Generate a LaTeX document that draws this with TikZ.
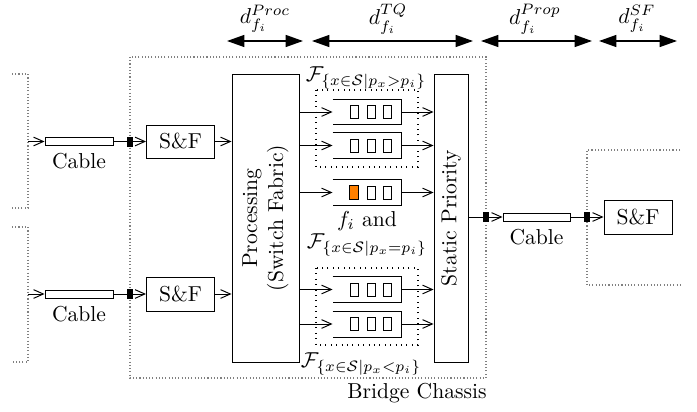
\documentclass[tikz,border=0pt]{standalone}
\usetikzlibrary{arrows.meta}
\def\u{0.463pt}
\begin{document}
\begin{tikzpicture}[x=0.463pt,y=-0.463pt,line width=0.45pt,
  box/.style={draw,rectangle,inner sep=0pt},
  sfbox/.style={box,minimum width=68*\u,minimum height=34*\u},
  cablebox/.style={box,minimum width=68*\u,minimum height=8*\u},
  plug/.style={draw,fill=black,rectangle,inner sep=0pt,minimum width=5*\u,minimum height=9*\u},
  slot/.style={draw,rectangle,inner sep=0pt,minimum width=8*\u,minimum height=13*\u,line width=0.4pt},
  qslot/.style={rectangle,inner sep=0pt,minimum width=68*\u,minimum height=25*\u},
  flow/.style={-{Straight Barb[length=4.5pt,width=4pt]}},
  span/.style={{Triangle[length=8pt,width=5.5pt]}-{Triangle[length=8pt,width=5.5pt]},line width=0.7pt},
  chassis/.style={densely dotted,gray,line width=0.5pt},
  group/.style={dotted,line width=0.5pt}]
\useasboundingbox (0,0) rectangle (697,412);

% enclosures
\draw[chassis] (130,57) rectangle (486,378);
\draw[chassis] (12,74) -- (28,74) -- (28,208) -- (12,208);
\draw[chassis] (12,227) -- (28,227) -- (28,362) -- (12,362);
\draw[chassis] (680,150) -- (587,150) -- (587,285) -- (680,285);
\node[anchor=base] (chassislbl) at (417,398) {Bridge Chassis};

% ingress ports
\coordinate (in1) at (28,141.5);
\coordinate (in2) at (28,294);
\node[cablebox] (cable1) at (79,141.5) {};
\node[cablebox] (cable2) at (79,294) {};
\node[anchor=north] (cable1lbl) at (cable1.south) {Cable};
\node[anchor=north] (cable2lbl) at (cable2.south) {Cable};
\node[plug] (conn1) at (130,141.5) {};
\node[plug] (conn2) at (130,294) {};
\node[sfbox,minimum height=33*\u] (sf1) at (180.5,141.5) {S\&F};
\node[sfbox] (sf2) at (180.5,294) {S\&F};

% processing and priority selection
\node[box,minimum width=67*\u,minimum height=288*\u] (proc) at (265.5,218) {};
\node[rotate=90,align=center] (proctxt) at (proc.center) {Processing\\(Switch Fabric)};
\node[box,minimum width=34*\u,minimum height=288*\u] (prio) at (451,218) {};
\node[rotate=90] (priotxt) at (prio.center) {Static Priority};

\draw[flow] (in1) -- (cable1.west);
\draw (cable1.east) -- (conn1.west);
\draw[flow] (conn1.east) -- (sf1.west);
\draw[flow] (sf1.east) -- (sf1.east -| proc.west);
\draw[flow] (in2) -- (cable2.west);
\draw (cable2.east) -- (conn2.west);
\draw[flow] (conn2.east) -- (sf2.west);
\draw[flow] (sf2.east) -- (sf2.east -| proc.west);

% traffic class queues
\foreach \n/\y in {1/112,2/145.5,3/192.5,4/289.5,5/324}{
  \node[qslot] (q\n) at (367,\y) {};
  \draw (q\n.north west) -- (q\n.north east) -- (q\n.south east) -- (q\n.south west);
  \node[slot] (q\n a) at ([xshift=-13*\u]q\n.center) {};
  \node[slot] (q\n b) at ([xshift=4*\u]q\n.center) {};
  \node[slot] (q\n c) at ([xshift=20.5*\u]q\n.center) {};
  \draw[flow] (q\n.west -| proc.east) -- (q\n.west);
  \draw[flow] (q\n.east) -- (q\n.east -| prio.west);
}
\fill[orange] (q3a.south west) rectangle (q3a.north east);
\draw[line width=0.4pt] (q3a.south west) rectangle (q3a.north east);

\draw[group] (316,90) rectangle (418,167);
\draw[group] (316,268) rectangle (418,345);
\node (fhigh) at (366,78) {$\mathcal{F}_{\{x\in\mathcal{S}|p_x>p_i\}}$};
\node (fiand) at (367,221) {$f_i$ and};
\node (fsame) at (367,245) {$\mathcal{F}_{\{x\in\mathcal{S}|p_x=p_i\}}$};
\node (flow) at (361,364) {$\mathcal{F}_{\{x\in\mathcal{S}|p_x<p_i\}}$};

% egress port
\node[plug] (conn3) at (486,217) {};
\node[cablebox,minimum width=67*\u] (cable3) at (536.5,217) {};
\node[anchor=north] (cable3lbl) at (cable3.south) {Cable};
\node[plug] (conn4) at (587,217) {};
\node[sfbox] (sf3) at (638,217) {S\&F};
\draw (prio.east |- conn3) -- (conn3.west);
\draw[flow] (conn3.east) -- (cable3.west);
\draw (cable3.east) -- (conn4.west);
\draw[flow] (conn4.east) -- (sf3.west);

% delay components
\coordinate (p0) at (227,41); \coordinate (p1) at (303,41);
\coordinate (t0) at (312,41); \coordinate (t1) at (473,41);
\coordinate (r0) at (481,41); \coordinate (r1) at (592,41);
\coordinate (s0) at (599,41); \coordinate (s1) at (677,41);
\draw[span] (p0) -- (p1);
\draw[span] (t0) -- (t1);
\draw[span] (r0) -- (r1);
\draw[span] (s0) -- (s1);
\node (dproc) at (265,19) {$d_{f_i}^{Proc}$};
\node (dtq) at (388,19) {$d_{f_i}^{TQ}$};
\node (dprop) at (535,19) {$d_{f_i}^{Prop}$};
\node (dsf) at (637,19) {$d_{f_i}^{SF}$};
\end{tikzpicture}
\end{document}
